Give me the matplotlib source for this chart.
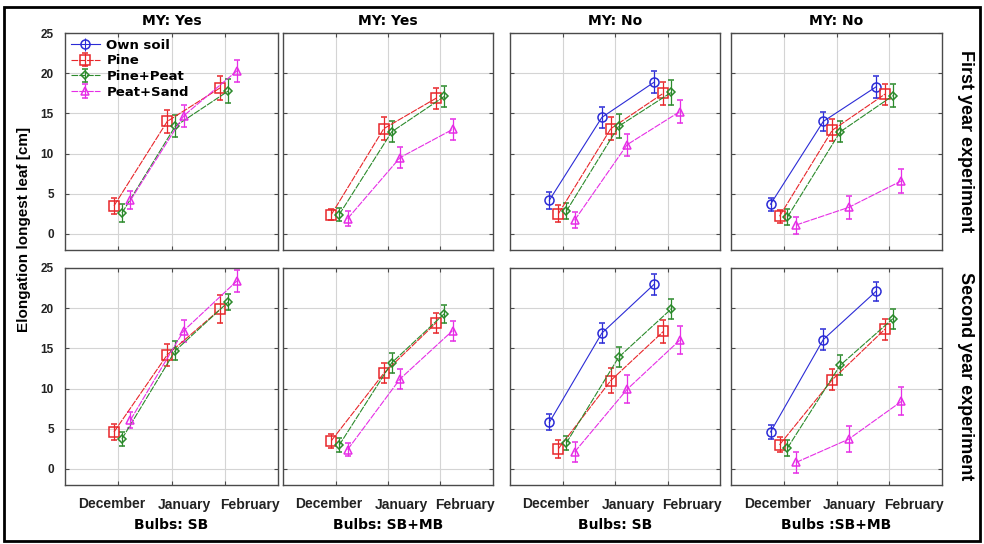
import matplotlib.pyplot as plt
from matplotlib.patches import Rectangle

# --- data ----------------------------------------------------------------
months = ["December", "January", "February"]
series_names = ["Own soil", "Pine", "Pine+Peat", "Peat+Sand"]
col_titles = ["MY: Yes", "MY: Yes", "MY: No", "MY: No"]
col_bottoms = ["Bulbs: SB", "Bulbs: SB+MB", "Bulbs: SB", "Bulbs :SB+MB"]
row_labels = ["First year experiment", "Second year experiment"]
y_ticks = [0, 5, 10, 15, 20, 25]

# means[row][col] -> 3 months ; None = series not present in panel
own_soil_mean = [
    [None, None, [4.2, 14.5, 18.9], [3.7, 14.0, 18.3]],
    [None, None, [5.8, 16.9, 23.0], [4.6, 16.1, 22.1]],
]
own_soil_err = [
    [None, None, [1.05, 1.35, 1.4], [0.8, 1.2, 1.35]],
    [None, None, [1.0, 1.25, 1.3], [0.85, 1.25, 1.2]],
]
pine_mean = [
    [[3.5, 14.0, 18.2], [2.4, 13.1, 16.9], [2.5, 13.1, 17.5], [2.2, 12.9, 17.4]],
    [[4.6, 14.2, 19.9], [3.5, 11.9, 18.2], [2.5, 11.0, 17.1], [3.0, 11.1, 17.4]],
]
pine_err = [
    [[1.0, 1.4, 1.5], [0.7, 1.4, 1.3], [1.05, 1.4, 1.45], [0.8, 1.4, 1.3]],
    [[0.95, 1.4, 1.8], [0.9, 1.25, 1.25], [1.1, 1.5, 1.45], [0.95, 1.3, 1.3]],
]
pine_peat_mean = [
    [[2.6, 13.4, 17.8], [2.4, 12.7, 17.1], [2.8, 13.4, 17.6], [2.1, 12.7, 17.2]],
    [[3.75, 14.7, 20.8], [2.95, 13.2, 19.3], [3.2, 13.9, 19.9], [2.6, 12.9, 18.7]],
]
pine_peat_err = [
    [[1.1, 1.4, 1.5], [0.8, 1.3, 1.3], [1.0, 1.5, 1.5], [1.0, 1.3, 1.4]],
    [[0.9, 1.2, 1.0], [0.9, 1.25, 1.15], [0.9, 1.25, 1.25], [1.05, 1.25, 1.25]],
]
peat_sand_mean = [
    [[4.2, 14.7, 20.3], [1.9, 9.5, 13.0], [1.7, 11.1, 15.2], [1.1, 3.3, 6.6]],
    [[6.1, 17.2, 23.4], [2.4, 11.2, 17.2], [2.1, 9.9, 16.0], [0.8, 3.7, 8.4]],
]
peat_sand_err = [
    [[1.1, 1.4, 1.4], [0.9, 1.3, 1.35], [1.0, 1.35, 1.45], [1.05, 1.45, 1.5]],
    [[1.0, 1.35, 1.35], [0.85, 1.25, 1.25], [1.3, 1.75, 1.75], [1.3, 1.6, 1.75]],
]

# --- styling --------------------------------------------------------------
COLORS = ["#2b2bd6", "#e8262a", "#2b8a2b", "#e62ee6"]
MARKERS = ["o", "s", "D", "^"]
MSIZES = [6.5, 7, 4.5, 6]
OFFSETS = [-0.25, -0.08, 0.07, 0.23]
LINESTYLES = ["-", (0, (6, 1)), (0, (6, 1)), (0, (6, 1))]
MONTH_LABEL_POS = [0.88, 2.25, 3.47]  # Statistica spreads the month names out
GRID = "#d4d4d4"
FRAME = "#4a4a4a"

W, H = 984, 544
fig = plt.figure(figsize=(W / 100, H / 100), dpi=100, facecolor="white")
plt.rcParams["font.family"] = ["Liberation Sans", "DejaVu Sans"]
HEAD = {"family": "DejaVu Sans", "weight": "bold", "size": 10}

col_x = [(65, 278), (283, 493), (510, 720), (731, 942)]
row_y = [(33, 250), (268, 485)]

means = [own_soil_mean, pine_mean, pine_peat_mean, peat_sand_mean]
errs = [own_soil_err, pine_err, pine_peat_err, peat_sand_err]

for r, (yt, yb) in enumerate(row_y):
    for c, (xl, xr) in enumerate(col_x):
        ax = fig.add_axes([xl / W, 1 - yb / H, (xr - xl) / W, (yb - yt) / H])
        for k in range(4):
            m = means[k][r][c]
            if m is None:
                continue
            xs = [i + 1 + OFFSETS[k] for i in range(len(months))]
            ax.errorbar(xs, m, yerr=errs[k][r][c], color=COLORS[k],
                        marker=MARKERS[k], ms=MSIZES[k], mfc="none", mew=1.1,
                        lw=0.8, ls=LINESTYLES[k], elinewidth=0.9, capsize=2.5,
                        capthick=0.9, label=series_names[k])
        ax.set_xlim(0, 4)
        ax.set_ylim(-2, 25)
        ax.set_xticks([1, 2, 3])
        ax.set_xticklabels([])
        ax.set_yticks(y_ticks)
        ax.grid(True, color=GRID, lw=0.8)
        ax.set_axisbelow(True)
        for s in ax.spines.values():
            s.set_color(FRAME)
            s.set_linewidth(1.0)
        ax.tick_params(direction="in", length=3, colors=FRAME, top=True,
                       right=True, labelsize=8)
        if r == 1:
            ax.set_xticks(MONTH_LABEL_POS, minor=True)
            ax.set_xticklabels(months, minor=True, fontsize=10,
                               fontweight="bold", color="#222222")
            ax.tick_params(axis="x", which="minor", length=0, pad=9)
            ax.set_xlabel(col_bottoms[c], fontdict=HEAD, labelpad=5)
        else:
            ax.set_title(col_titles[c], fontdict=HEAD, pad=6)
        if c == 0:
            ax.set_yticklabels([str(v) for v in y_ticks], fontsize=8.5,
                               fontweight="bold", color="#222222")
            ax.tick_params(axis="y", pad=8)
        else:
            ax.set_yticklabels([])
        if c == 3:
            ax.text(1.11, 0.5, row_labels[r], transform=ax.transAxes,
                    rotation=-90, ha="center", va="center", fontsize=13,
                    fontweight="bold")
        if r == 0 and c == 0:
            # include Own soil in legend even though absent here
            ax.errorbar([], [], yerr=[], color=COLORS[0], marker=MARKERS[0],
                        ms=MSIZES[0], mfc="none", mew=1.1, lw=0.8,
                        capsize=2.5, label=series_names[0])
            handles, labels = ax.get_legend_handles_labels()
            order = [labels.index(n) for n in series_names]
            ax.legend([handles[i] for i in order], [labels[i] for i in order],
                      loc="upper left", bbox_to_anchor=(-0.01, 1.01),
                      frameon=False, handlelength=2.2,
                      handletextpad=0.5, labelspacing=0.2, borderaxespad=0.2,
                      prop={"family": "DejaVu Sans", "weight": "bold",
                            "size": 9.5})

fig.text(24 / W, 1 - 229 / H, "Elongation longest leaf [cm]", rotation=90,
         ha="center", va="center", fontsize=11, fontweight="bold")

fig.patches.append(Rectangle((4 / W, 3 / H), (W - 8) / W, (H - 10) / H,
                             transform=fig.transFigure, fill=False,
                             edgecolor="black", lw=2))

fig.savefig("out.png", dpi=100, facecolor="white")
